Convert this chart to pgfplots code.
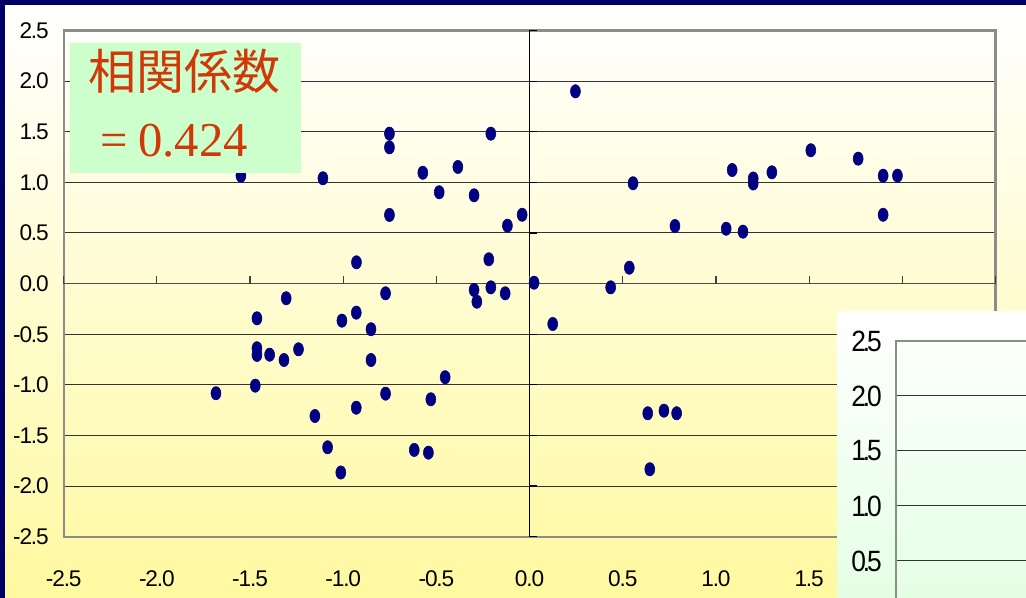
\documentclass[border=0pt]{standalone}
\usepackage{pgfplots}
\usepackage{pgfplotstable}
\pgfplotsset{compat=1.18}
\usepackage{fontspec}
\setmainfont{Liberation Sans}
\newfontfamily\tickfont[LetterSpace=-5]{Liberation Sans}
\newfontfamily\insetfont[LetterSpace=-12]{Liberation Sans}
\newfontfamily\cjk{Noto Sans CJK JP}
\newfontfamily\serif{Liberation Serif}
\definecolor{navyband}{RGB}{0,0,102}
\definecolor{dotnavy}{RGB}{0,0,128}
\definecolor{bgyellow}{RGB}{255,249,160}
\definecolor{boxgreen}{RGB}{204,255,204}
\definecolor{txtred}{RGB}{208,56,8}
\definecolor{insetgreen}{RGB}{228,255,228}

\pgfplotstableread{
x y
-1.549 1.066
-1.109 1.040
-0.752 1.481
-0.752 1.346
-0.752 0.678
-0.573 1.095
-0.385 1.152
-0.485 0.902
-0.298 0.872
-0.208 1.481
-0.040 0.680
-0.119 0.572
-0.219 0.240
-0.208 -0.037
-0.298 -0.063
-0.283 -0.179
-0.131 -0.096
0.024 0.009
0.246 1.899
0.124 -0.399
0.435 -0.037
0.535 0.157
0.555 0.991
0.780 0.569
1.087 1.122
1.055 0.542
1.145 0.513
1.200 1.038
1.200 0.989
1.300 1.099
1.509 1.317
1.763 1.234
1.897 1.066
1.974 1.066
1.897 0.680
0.634 -1.281
0.721 -1.255
0.789 -1.281
0.645 -1.834
-1.683 -1.083
-1.472 -1.008
-1.463 -0.343
-1.463 -0.639
-1.463 -0.705
-1.395 -0.702
-1.318 -0.755
-1.240 -0.649
-1.306 -0.145
-1.152 -1.308
-1.084 -1.617
-1.013 -1.866
-1.007 -0.366
-0.930 -0.287
-0.929 0.210
-0.930 -1.226
-0.851 -0.451
-0.851 -0.755
-0.773 -0.096
-0.773 -1.087
-0.619 -1.643
-0.543 -1.670
-0.530 -1.143
-0.453 -0.925
}\scatterdata

\begin{document}
\begin{tikzpicture}
\useasboundingbox (0,0) rectangle (769.5pt,448.5pt);
\clip (0,0) rectangle (769.5pt,448.5pt);
\shade[top color=white, bottom color=bgyellow] (0,0) rectangle (769.5pt,444.75pt);
\fill[navyband] (0,445pt) rectangle (769.5pt,448.5pt);
\fill[navyband] (0,0) rectangle (3.75pt,448.5pt);

\begin{axis}[
  at={(47.775pt,45.975pt)}, anchor=south west,
  width=698.85pt, height=379.65pt, scale only axis,
  xmin=-2.5, xmax=2.5, ymin=-2.5, ymax=2.5,
  xtick={-2.5,-2,-1.5,-1,-0.5,0,0.5,1,1.5,2,2.5},
  ytick={-2.5,-2,-1.5,-1,-0.5,0,0.5,1,1.5,2,2.5},
  xticklabels={-2.5,-2.0,-1.5,-1.0,-0.5,0.0,0.5,1.0,1.5,2.0,2.5},
  yticklabels={-2.5,-2.0,-1.5,-1.0,-0.5,0.0,0.5,1.0,1.5,2.0,2.5},
  major tick length=0pt,
  ymajorgrids,
  grid style={black!80, line width=0.75pt},
  axis line style={draw=black!45, line width=1.6pt},
  tick label style={font=\tickfont\fontsize{17}{20}\selectfont, inner sep=0pt},
  xticklabel style={anchor=center, yshift=-31.7pt},
  yticklabel style={anchor=east, xshift=-11pt},
  clip=false,
]
\draw[black!70, line width=1.1pt] (axis cs:-2.5,0) -- (axis cs:2.5,0);
\draw[black, line width=0.9pt] (axis cs:0,-2.5) -- (axis cs:0,2.5);
\pgfplotsinvokeforeach{-2.5,-2,-1.5,-1,-0.5,0,0.5,1,1.5,2,2.5}{
  \draw[black!75, line width=0.9pt] (axis cs:#1,0) -- ++(0pt,6pt);
  \draw[black, line width=0.9pt] (axis cs:0,#1) -- ++(5.25pt,0pt);
}
\addplot[only marks, mark=*, mark size=5pt,
  mark options={xscale=0.75, draw=dotnavy, fill=dotnavy}] table[x=x,y=y] {\scatterdata};
\end{axis}

\fill[boxgreen] (52.5pt,318.75pt) rectangle (225.75pt,416.25pt);
\node[anchor=center, text=txtred, inner sep=0pt, font=\cjk\fontsize{36}{40}\selectfont] at (138.75pt,395.25pt) {相関係数};
\node[anchor=base west, inner sep=0pt, text=txtred, font=\serif\fontsize{36.5}{40}\selectfont] at (75pt,330.75pt) {=\hspace{0.22em}0.424};

\shade[top color=white, bottom color=insetgreen] (627.75pt,0) rectangle (769.5pt,214.5pt);
\begin{axis}[
  at={(672pt,192.75pt)}, anchor=north west,
  width=168pt, height=206.25pt, scale only axis,
  xmin=0, xmax=1, ymin=0, ymax=2.5,
  xtick=\empty,
  ytick={0.5,1,1.5,2,2.5},
  yticklabels={0.5,1.0,1.5,2.0,2.5},
  major tick length=0pt,
  ymajorgrids,
  grid style={black!80, line width=0.75pt},
  axis line style={draw=black!45, line width=1.6pt},
  yticklabel style={anchor=east, xshift=-10.5pt, inner sep=0pt, xscale=0.9, font=\insetfont\fontsize{22}{25}\selectfont},
]
\addplot[draw=none] coordinates {(0.5,1)};
\end{axis}
\end{tikzpicture}
\end{document}
